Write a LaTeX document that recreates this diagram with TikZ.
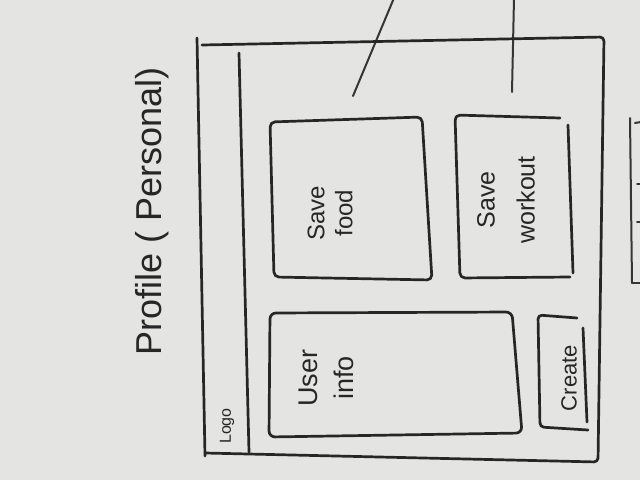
\documentclass[tikz,border=0pt]{standalone}
\usepackage{fontspec}
\setmainfont{Liberation Sans}
\usepackage{tikz}
\usetikzlibrary{positioning, calc}
\definecolor{board}{HTML}{E4E4E2}
\definecolor{ink}{HTML}{262626}
\definecolor{inksoft}{HTML}{363636}

\begin{document}
\begin{tikzpicture}[x=1pt, y=-1pt,
    pen/.style={ink, line width=2.7pt, line cap=round, line join=round},
    thinpen/.style={inksoft, line width=2pt, line cap=round},
    scrawl/.style={ink, rotate=90, align=center, inner sep=0pt}]
  \useasboundingbox (0,0) rectangle (640,480);
  \fill[board] (0,0) rectangle (640,480);

  % Stray lines at the top
  \coordinate (strayAtop) at (394,-2);
  \coordinate (strayAend) at (353,96);
  \coordinate (strayBtop) at (514,-2);
  \coordinate (strayBend) at (512,92);
  \draw[thinpen] (strayAtop) -- (strayAend);
  \draw[thinpen] (strayBtop) -- (strayBend);

  % Outer frame
  \draw[pen] (197,38) -- (205,456);
  \draw[pen, rounded corners=4pt] (202,45) -- (604,37) -- (598,462) -- (205,453);
  % Logo bar
  \draw[pen] (239,53) -- (249,452);

  % Save food box
  \draw[pen, rounded corners=5pt] (270,122) -- (422,117) -- (432,280) -- (274,277) -- cycle;
  % Save workout box
  \draw[pen, rounded corners=5pt] (560,118) -- (455,115) -- (460,278) -- (570,277);
  \draw[pen] (568,125) -- (573,273);
  % User info box
  \draw[pen, rounded corners=6pt] (270,313) -- (512,312) -- (522,433) -- (269,437) -- cycle;
  % Create box
  \draw[pen, rounded corners=4pt] (577,318) -- (538,315) -- (540,427) -- (588,430);
  \draw[pen] (583,328) -- (587,422);

  % Partial box at the right edge
  \draw[thinpen] (630,118) -- (632,283);
  \draw[thinpen] (635,123) -- (641,122);
  \draw[thinpen] (632,283) -- (641,283);
  \draw[thinpen] (637,184) -- (641,184);
  \draw[thinpen] (637,222) -- (641,222);

  % Labels
  \node[scrawl, font=\fontsize{36}{40}\selectfont] (title) at (152,211) {Profile ( Personal)};
  \node[scrawl, font=\fontsize{16}{18}\selectfont] (logo) at (227,426) {Logo};
  \node[scrawl, font=\fontsize{24}{28}\selectfont] (savefood) at (330,213) {Save\\food};
  \node[scrawl, font=\fontsize{25}{40}\selectfont] (saveworkout) at (506,200) {Save\\workout};
  \node[scrawl, font=\fontsize{27}{36}\selectfont] (userinfo) at (326,378) {User\\info};
  \node[scrawl, font=\fontsize{22}{26}\selectfont] (create) at (569,378) {Create};
\end{tikzpicture}
\end{document}
